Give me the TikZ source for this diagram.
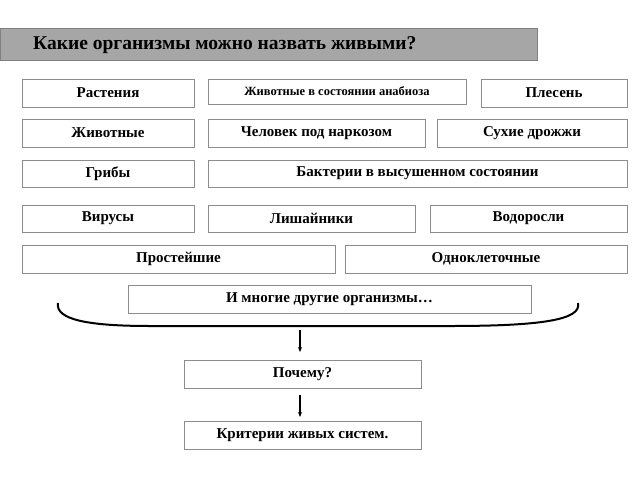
\documentclass[tikz,border=0pt]{standalone}
\usepackage{fontspec}
\setmainfont{Liberation Serif}
\usetikzlibrary{arrows.meta}
\begin{document}
\begin{tikzpicture}[x=1pt,y=-1pt,
 bxr/.style={draw=black!45,line width=1pt,fill=white},
 bt/.style={inner sep=0pt,anchor=center,font=\bfseries\fontsize{15}{17}\selectfont},
 arr/.style={-{Stealth[length=5pt,width=4pt]},line width=1.3pt}]
\useasboundingbox (0,0) rectangle (640,480);
\newcommand\bb[6]{\draw[bxr] (#2,#3) rectangle (#4,#5); \node[bt] (#1) at ({(#2+#4)/2},{(#3+#5)/2}) {#6};}
\draw[draw=black!50,fill=black!35,line width=1pt] (0,28) rectangle (537,60);
\node[anchor=west,inner sep=0pt,font=\bfseries\fontsize{19.5}{22}\selectfont] (tt) at (33,45) {Какие организмы можно назвать живыми?};
\bb{a}{22}{79}{194}{107}{Растения}
\draw[bxr] (208,79) rectangle (466,104);
\node[bt,font=\bfseries\fontsize{12.5}{14}\selectfont] (b) at (337,91.5) {Животные в состоянии анабиоза};
\bb{c}{481}{79}{627}{107}{Плесень}
\bb{d}{22}{119}{194}{147}{Животные}
\bb{e}{208}{119}{425}{147}{Человек под наркозом}
\bb{f}{437}{119}{627}{147}{Сухие дрожжи}
\bb{g}{22}{160}{194}{187}{Грибы}
\bb{h}{208}{160}{627}{187}{Бактерии в высушенном состоянии}
\bb{i}{22}{205}{194}{232}{Вирусы}
\bb{j}{208}{205}{415}{232}{Лишайники}
\bb{k}{430}{205}{627}{232}{Водоросли}
\bb{l}{22}{245}{335}{273}{Простейшие}
\bb{m}{345}{245}{627}{273}{Одноклеточные}
\bb{n}{128}{285}{531}{313}{И многие другие организмы…}
\bb{p}{184}{360}{421}{388}{Почему?}
\bb{q}{184}{421}{421}{449}{Критерии живых систем.}
\coordinate (bl) at (58,303);
\coordinate (br) at (578,303);
\draw[line width=2pt] (bl) .. controls (55,320) and (90,326) .. (150,326) -- (450,326) .. controls (540,326) and (582,320) .. (br);
\coordinate (a1) at (300,330);
\coordinate (a1e) at (300,352);
\draw[arr] (a1) -- (a1e);
\coordinate (a2) at (300,395);
\coordinate (a2e) at (300,417);
\draw[arr] (a2) -- (a2e);
\end{tikzpicture}
\end{document}
